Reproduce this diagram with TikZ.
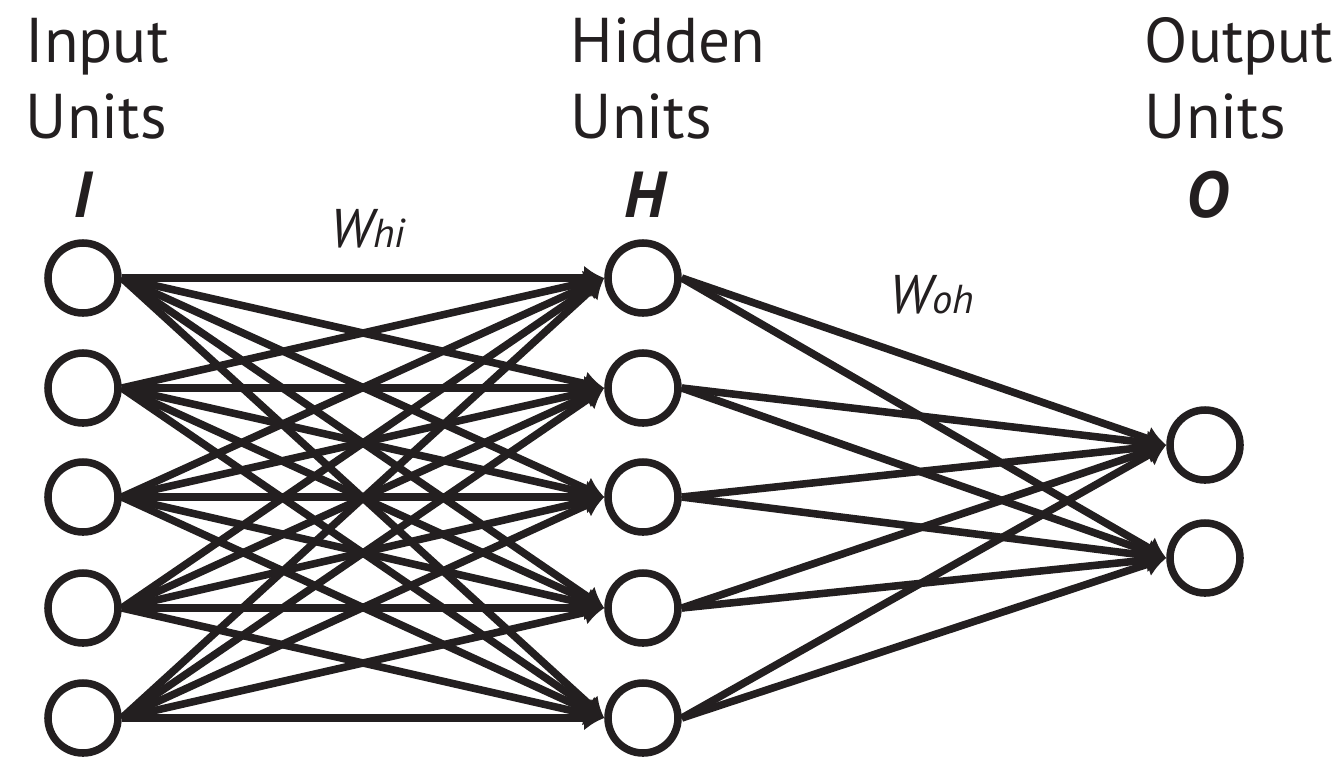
\documentclass[tikz,border=0pt]{standalone}
\usepackage{fontspec}
\setmainfont{PT Sans}
\usetikzlibrary{arrows.meta}
\definecolor{inkblk}{HTML}{231F20}

\begin{document}
\begin{tikzpicture}[
    x=0.02cm, y=-0.02cm,
    >={Latex[length=0.4cm, width=0.5cm]},
    every node/.style={text=inkblk},
    line width=4.3pt,
    unit/.style={circle, draw=inkblk, minimum size=1.40cm, inner sep=0pt},
    wire/.style={draw=inkblk, ->},
    layertitle/.style={font=\fontsize{36}{43}\selectfont, align=left,
      anchor=base west, inner sep=0pt},
    layersym/.style={font=\fontsize{37}{43}\selectfont\bfseries\itshape,
      anchor=base, inner sep=0pt},
    weight/.style={font=\fontsize{31}{36}\selectfont\itshape,
      anchor=base, inner sep=0pt},
  ]

  \useasboundingbox (0,0) rectangle (1335,762);

  % === Layer titles (anchored on the second line) ===
  \node[layertitle] (tin)  at (22,138)   {Input\\Units};
  \node[layertitle] (thid) at (567,138)  {Hidden\\Units};
  \node[layertitle] (tout) at (1141,138) {Output\\Units};

  \node[layersym] (symI) at (83,217)   {I};
  \node[layersym] (symH) at (645,217)  {H};
  \node[layersym] (symO) at (1207,217) {O};

  % === Units ===
  \foreach \y [count=\k] in {278,388,497,608,718} {
    \node[unit] (i\k) at (83,\y) {};
    \node[unit] (h\k) at (643,\y) {};
  }
  \node[unit] (o1) at (1205,445) {};
  \node[unit] (o2) at (1205,558) {};

  % === Weights: input -> hidden ===
  \foreach \a in {1,...,5}
    \foreach \b in {1,...,5}
      \draw[wire] (i\a.east) -- (h\b.west);

  % === Weights: hidden -> output ===
  \foreach \a in {1,...,5}
    \foreach \b in {1,2}
      \draw[wire] (h\a.east) -- (o\b.west);

  % Weight labels
  \node[weight] (whi) at (368,247) {W{\fontsize{23}{26}\selectfont hi}};
  \node[weight] (woh) at (932,313) {W{\fontsize{23}{26}\selectfont oh}};

\end{tikzpicture}
\end{document}
